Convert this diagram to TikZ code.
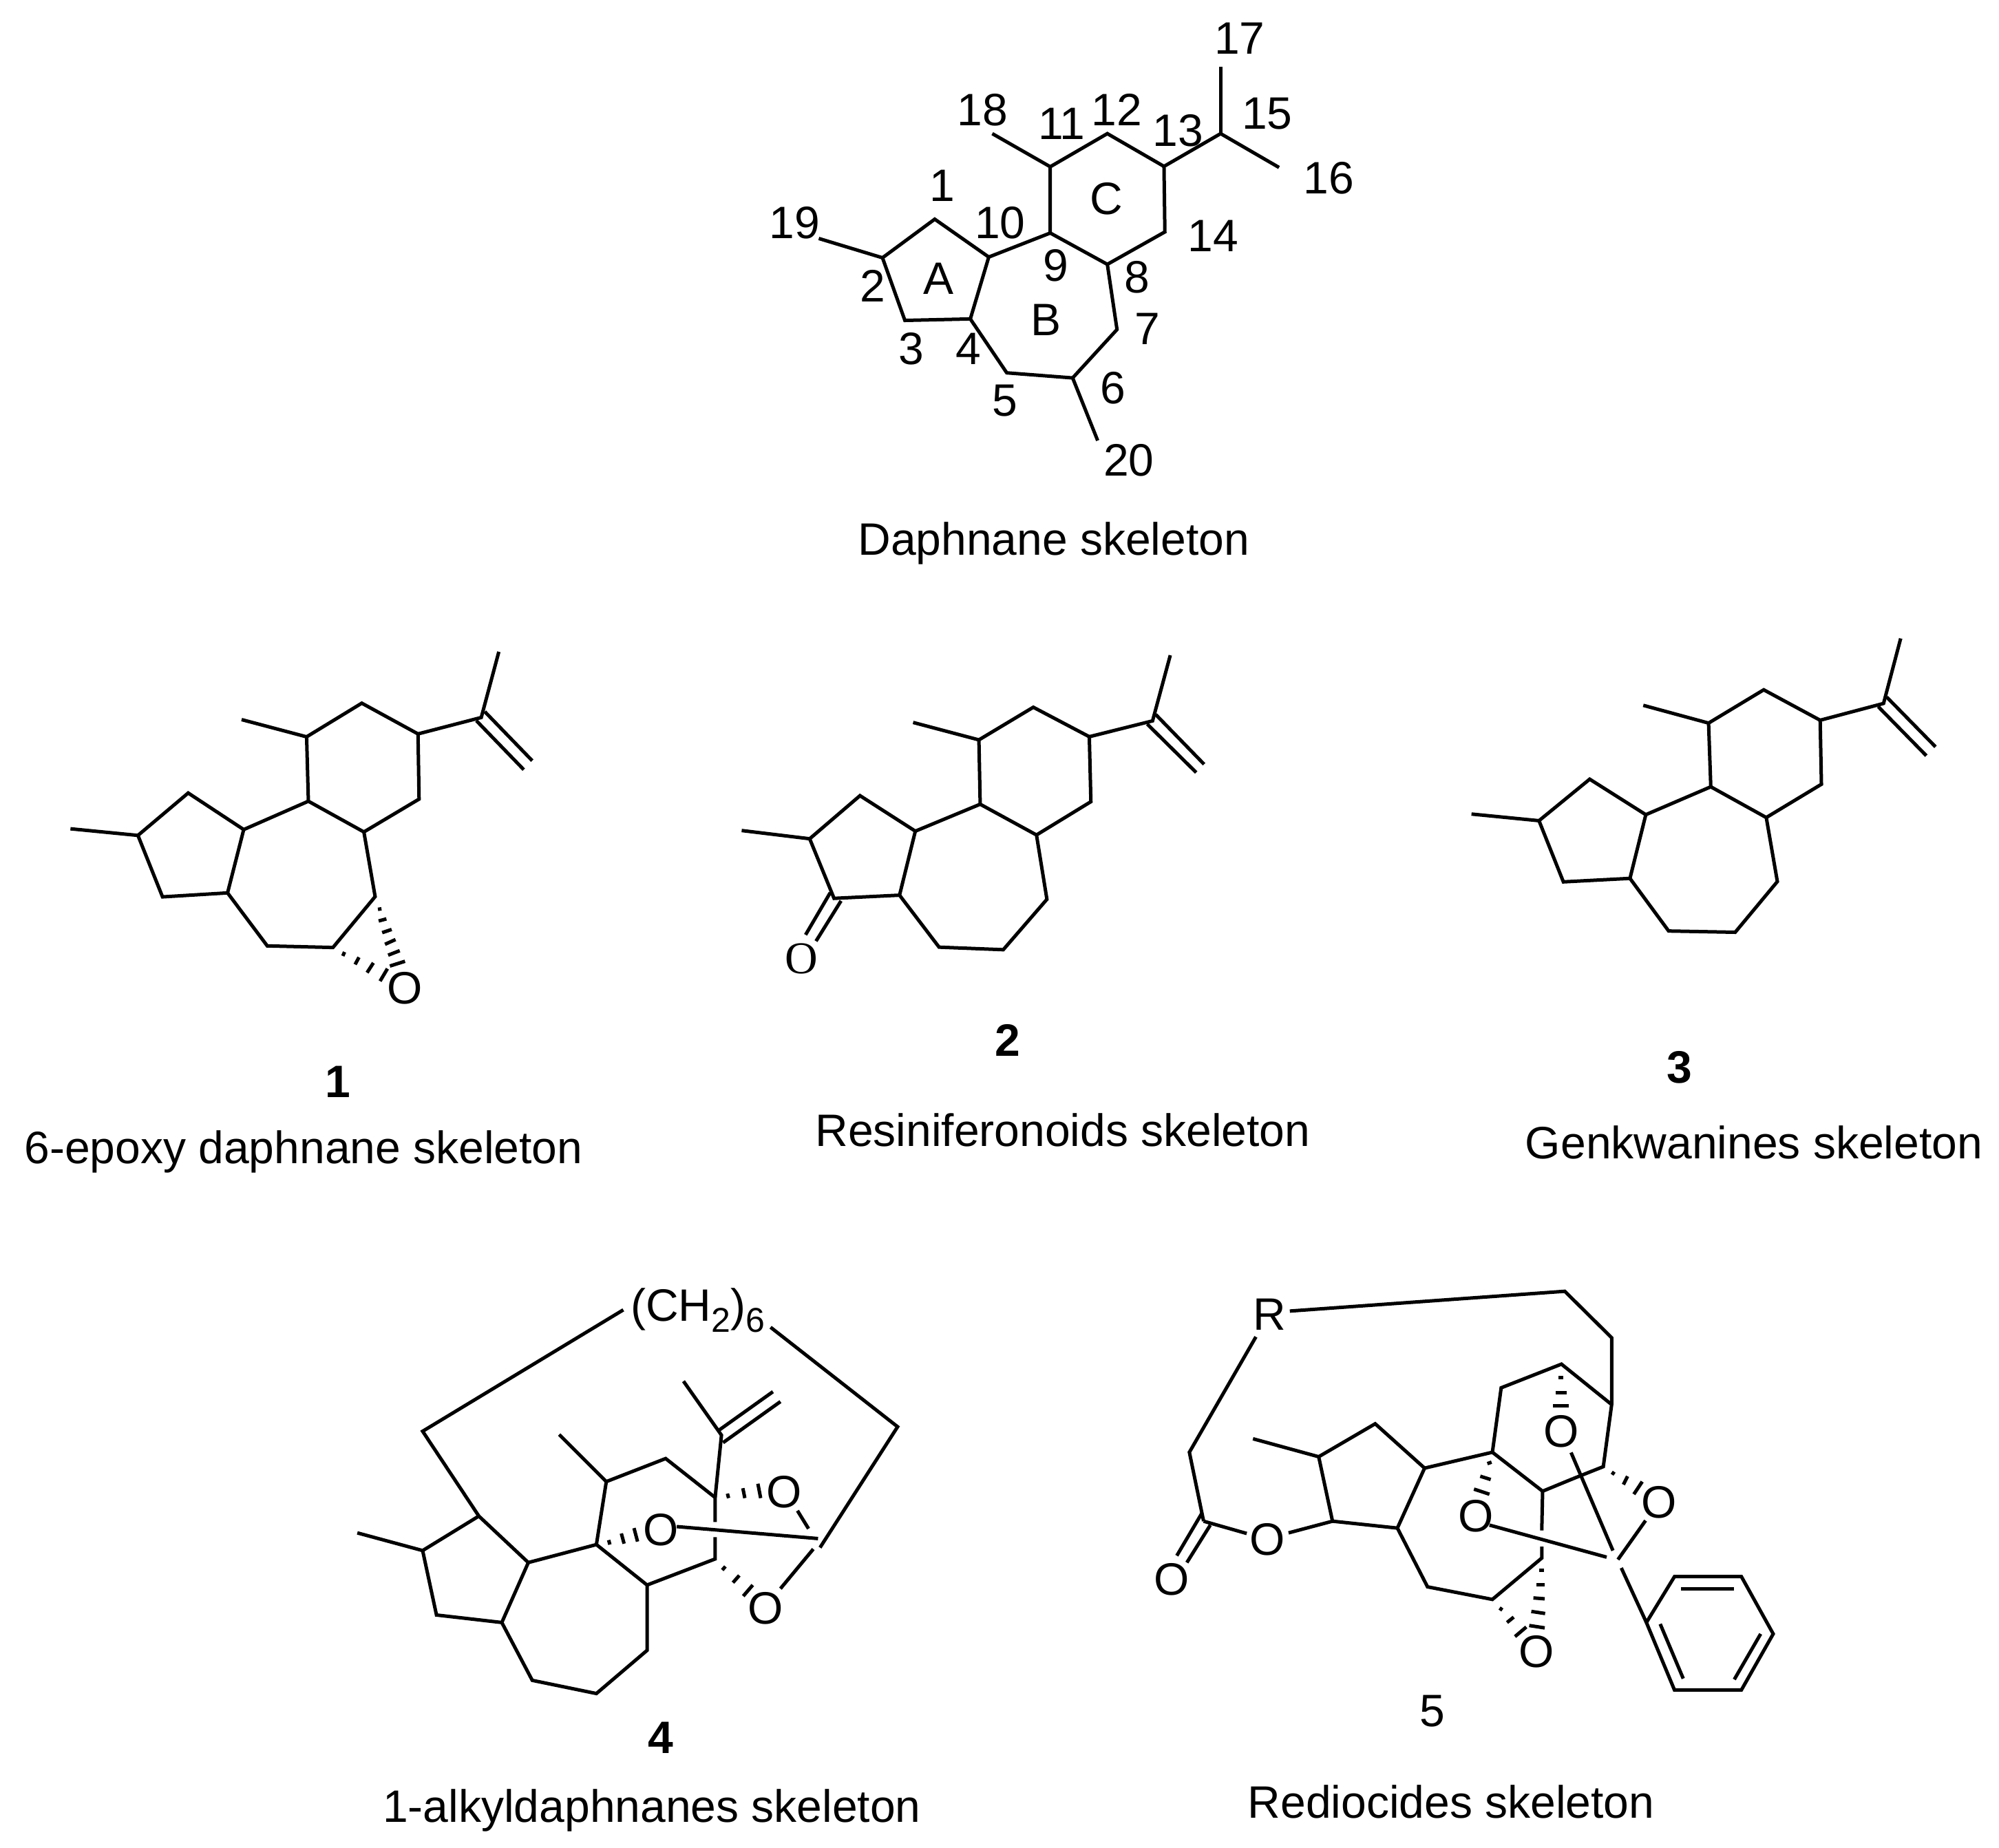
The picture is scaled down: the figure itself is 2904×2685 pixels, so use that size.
\documentclass[tikz,border=0pt]{standalone}
\usepackage{fontspec}
\setmainfont{Liberation Sans}
\newfontfamily\timesf{Liberation Serif}
\newcommand{\subdig}[1]{\raisebox{-0.24em}{\fontsize{12.5pt}{13pt}\selectfont #1}}
\tikzset{
  bond/.style={line width=1.25pt,line join=miter,line cap=butt,miter limit=3},
  lab/.style={inner sep=0pt,font=\fontsize{16.5pt}{18pt}\selectfont},
  bnum/.style={inner sep=0pt,font=\fontsize{16.5pt}{18pt}\selectfont\bfseries},
  serifo/.style={inner sep=0pt,font=\fontsize{16.5pt}{18pt}\selectfont\timesf}
}
\begin{document}
\begin{tikzpicture}[x=0.25pt,y=-0.25pt]
\useasboundingbox (0,0) rectangle (2904,2685);
% ---------- Daphnane
\begin{scope}[shift={(1000,0)},xscale=0.638,yscale=0.529]
\draw[bond] (561,602)--(442,708)--(493,880)--(642,876)--(684,706)--cycle;
\draw[bond] (684,706)--(824,640)--(954,726)--(976,905)--(875,1038)--(725,1024)--(642,876);
\draw[bond] (824,640)--(824,458)--(954,367)--(1083,457)--(1085,637)--(954,726);
\draw[bond] (824,458)--(692,367);
\draw[bond] (1083,457)--(1212,367)--(1345,460);
\draw[bond] (1212,367)--(1212,183);
\draw[bond] (442,708)--(297,655);
\draw[bond] (875,1038)--(932,1210);
\node[lab] (n1) at (578,510) {1};
\node[lab] (n2) at (420,785) {2};
\node[lab] (n3) at (507,958) {3};
\node[lab] (n4) at (638,958) {4};
\node[lab] (n5) at (720,1100) {5};
\node[lab] (n6) at (967,1065) {6};
\node[lab] (n7) at (1045,903) {7};
\node[lab] (n8) at (1022,762) {8};
\node[lab] (n9) at (836,730) {9};
\node[lab] (n10) at (710,612) {10};
\node[lab] (n11) at (850,340) {11};
\node[lab] (n12) at (975,302) {12};
\node[lab] (n13) at (1115,358) {13};
\node[lab] (n14) at (1195,648) {14};
\node[lab] (n15) at (1318,312) {15};
\node[lab] (n16) at (1458,490) {16};
\node[lab] (n17) at (1255,105) {17};
\node[lab] (n18) at (670,302) {18};
\node[lab] (n19) at (242,612) {19};
\node[lab] (n20) at (1003,1265) {20};
\node[lab] (ra) at (570,765) {A};
\node[lab] (rb) at (814,878) {B};
\node[lab] (rc) at (952,545) {C};
\node[lab] (cap0) at (832,1492) {Daphnane skeleton};
\end{scope}
% ---------- 1
\begin{scope}[shift={(60,900)},xscale=0.5105,yscale=0.385]
\draw[bond] (418,655)--(275,815)--(345,1047)--(530,1032)--(576,793)--cycle;
\draw[bond] (576,793)--(760,686)--(918,802)--(950,1046)--(830,1238)--(643,1232)--(530,1032);
\draw[bond] (760,686)--(755,443)--(912,316)--(1072,432)--(1075,678)--(918,802);
\draw[bond] (755,443)--(570,378);
\draw[bond] (275,815)--(83,790);
\draw[bond] (1072,432)--(1252,370)--(1302,122);
\draw[bond] (1262,348)--(1397,533);
\draw[bond] (1238,382)--(1373,567);
\draw[bond] (958,1094)--(968,1092);
\draw[bond] (960,1138)--(982,1130);
\draw[bond] (970,1182)--(997,1170);
\draw[bond] (978,1226)--(1008,1208);
\draw[bond] (987,1267)--(1020,1250);
\draw[bond] (992,1308)--(1035,1290);
\draw[bond] (858,1270)--(863,1255);
\draw[bond] (893,1302)--(904,1275);
\draw[bond] (927,1333)--(945,1296);
\draw[bond] (964,1365)--(985,1318);
\node[lab] (o1) at (1035,1392) {O};
\end{scope}
\node[bnum] (b1) at (491,1572) {1};
\node[lab] (cap1) at (441,1673) {6-epoxy daphnane skeleton};
% ---------- 2
\begin{scope}[shift={(1060,900)},xscale=0.4595,yscale=0.4605]
\draw[bond] (412,556)--(253,692)--(330,880)--(537,870)--(587,668)--cycle;
\draw[bond] (587,668)--(792,583)--(970,680)--(1003,883)--(865,1042)--(662,1034)--(537,870);
\draw[bond] (792,583)--(788,380)--(960,277)--(1137,370)--(1142,575)--(970,680);
\draw[bond] (788,380)--(580,325);
\draw[bond] (253,692)--(38,666);
\draw[bond] (1137,370)--(1337,320)--(1393,113);
\draw[bond] (1347,300)--(1500,457);
\draw[bond] (1320,330)--(1475,483);
\draw[bond] (318,862)--(240,995);
\draw[bond] (352,888)--(273,1015);
\node[serifo] (o2) at (228,1070) {O};
\node[bnum] (b2) at (878,1328) {2};
\end{scope}
\node[lab] (cap2) at (1544,1642) {Resiniferonoids skeleton};
% ---------- 3
\begin{scope}[shift={(2110,900)},xscale=0.4605,yscale=0.4605]
\draw[bond] (433,504)--(273,635)--(350,828)--(560,817)--(610,616)--cycle;
\draw[bond] (610,616)--(815,528)--(990,625)--(1025,827)--(892,987)--(682,983)--(560,817);
\draw[bond] (815,528)--(808,327)--(982,222)--(1160,318)--(1164,520)--(990,625);
\draw[bond] (808,327)--(602,271);
\draw[bond] (273,635)--(60,614);
\draw[bond] (1160,318)--(1360,265)--(1414,60);
\draw[bond] (1370,245)--(1524,402);
\draw[bond] (1343,275)--(1495,430);
\node[bnum] (b3) at (716,1413) {3};
\end{scope}
\node[lab] (cap3) at (2548,1660) {Genkwanines skeleton};
% ---------- 4
\begin{scope}[shift={(480,1850)},xscale=0.575,yscale=0.4355]
\draw[bond] (375,810)--(233,925)--(268,1140)--(433,1165)--(500,965)--cycle;
\draw[bond] (233,925)--(68,866);
\draw[bond] (500,965)--(672,905)--(800,1040)--(800,1258)--(672,1402)--(510,1358)--(433,1165);
\draw[bond] (672,905)--(697,695)--(847,618)--(972,748)--(972,830);
\draw[bond] (697,695)--(578,538);
\draw[bond] (972,880)--(972,953)--(800,1040);
\draw[bond] (972,748)--(988,540)--(892,360);
\draw[bond] (980,525)--(1118,395);
\draw[bond] (992,565)--(1137,428);
\draw[bond] (740,122)--(233,527)--(375,810);
\draw[bond] (1112,180)--(1433,512)--(1237,915);
\draw[bond] (1180,792)--(1208,852);
\draw[bond] (875,845)--(1232,885);
\draw[bond] (1137,1052)--(1220,920);
\draw[bond] (1003,735)--(1006,750);
\draw[bond] (1042,717)--(1047,750);
\draw[bond] (1080,702)--(1087,750);
\draw[bond] (703,890)--(706,905);
\draw[bond] (735,868)--(742,902);
\draw[bond] (767,850)--(776,895);
\draw[bond] (990,990)--(998,978);
\draw[bond] (1017,1032)--(1033,1008);
\draw[bond] (1043,1077)--(1067,1040);
\node[lab] (o4a) at (1147,730) {O};
\node[lab] (o4b) at (835,855) {O};
\node[lab] (o4c) at (1100,1118) {O};
\node[lab,anchor=base] (ch) at (928,160) {(CH\subdig{2})\subdig{6}};
\end{scope}
\node[bnum] (b4) at (960,2525) {4};
\node[lab] (cap4) at (947,2630) {1-alkyldaphnanes skeleton};
% ---------- 5
\begin{scope}[shift={(1650,1850)},xscale=0.608,yscale=0.4355]
\draw[bond] (368,126)--(1025,60)--(1137,215)--(1137,438);
\draw[bond] (287,212)--(128,597)--(162,827);
\draw[bond] (158,800)--(98,942);
\draw[bond] (178,840)--(122,965);
\draw[bond] (162,827)--(265,868);
\draw[bond] (365,866)--(470,827);
\draw[bond] (470,827)--(437,612)--(572,502)--(690,650)--(625,850)--cycle;
\draw[bond] (437,612)--(280,552);
\draw[bond] (690,650)--(852,597)--(873,382)--(1017,303)--(1137,438)--(1117,645)--(1045,685);
\draw[bond] (852,597)--(972,727)--(1045,685);
\draw[bond] (972,727)--(970,858);
\draw[bond] (970,912)--(970,950)--(852,1088)--(697,1046)--(625,850);
\draw[bond] (1040,598)--(1140,925);
\draw[bond] (845,840)--(1125,947);
\draw[bond] (1152,955)--(1218,825);
\draw[bond] (1160,983)--(1220,1165);
\draw[bond] (1220,1165)--(1287,1012)--(1447,1012)--(1523,1203)--(1447,1390)--(1287,1390)--cycle;
\draw[bond] (1303,1052)--(1430,1052);
\draw[bond] (1253,1170)--(1308,1352);
\draw[bond] (1493,1203)--(1430,1355);
\draw[bond] (1010,347)--(1022,347);
\draw[bond] (1003,398)--(1030,398);
\draw[bond] (997,443)--(1035,443);
\draw[bond] (840,635)--(850,630);
\draw[bond] (823,677)--(848,688);
\draw[bond] (808,720)--(845,737);
\draw[bond] (1138,672)--(1143,662);
\draw[bond] (1165,705)--(1175,677);
\draw[bond] (1190,737)--(1210,695);
\draw[bond] (964,990)--(975,990);
\draw[bond] (957,1038)--(977,1038);
\draw[bond] (950,1083)--(977,1086);
\draw[bond] (945,1128)--(978,1135);
\draw[bond] (940,1175)--(977,1183);
\draw[bond] (870,1125)--(875,1115);
\draw[bond] (887,1165)--(903,1147);
\draw[bond] (906,1212)--(933,1180);
\node[lab] (r5) at (320,138) {R};
\node[lab] (o5a) at (1017,528) {O};
\node[lab] (o5b) at (812,810) {O};
\node[lab] (o5c) at (1250,763) {O};
\node[lab] (o5d) at (958,1262) {O};
\node[lab] (o5e) at (315,888) {O};
\node[lab] (o5f) at (85,1022) {O};
\node[lab] (b5) at (708,1460) {5};
\end{scope}
\node[lab] (cap5) at (2108,2618) {Rediocides skeleton};
\end{tikzpicture}
\end{document}
